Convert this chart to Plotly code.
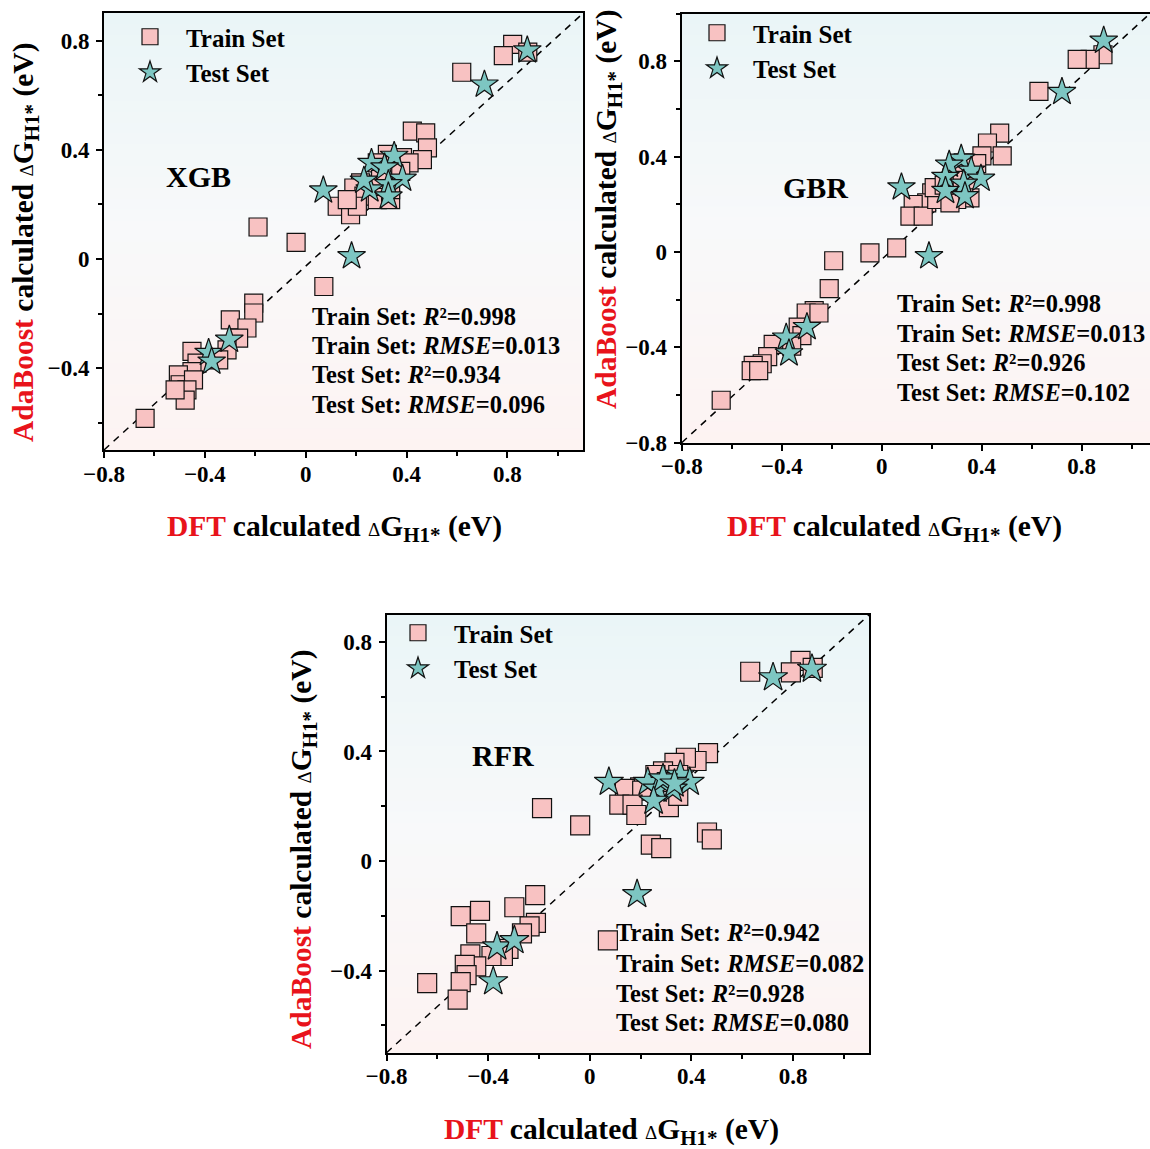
import plotly.graph_objects as go

# ---------------- data ----------------
xgb_train_x = [0.821, 0.784, 0.881, 0.619, 0.423, 0.476, 0.483, 0.463, 0.324, 0.384, 0.410, 0.284, 0.324,
               0.377, 0.218, 0.191, 0.231, 0.284, 0.337, 0.337, 0.125, 0.178, 0.205, 0.165, 0.271, 0.297,
               -0.189, -0.038, 0.072, -0.206, -0.206, -0.299, -0.233, -0.266, -0.312, -0.345, -0.451,
               -0.431, -0.451, -0.505, -0.498, -0.445, -0.471, -0.478, -0.518, -0.637]
xgb_train_y = [0.786, 0.745, 0.758, 0.684, 0.468, 0.462, 0.407, 0.364, 0.383, 0.371, 0.352, 0.352, 0.328,
               0.321, 0.279, 0.260, 0.230, 0.217, 0.217, 0.254, 0.193, 0.162, 0.193, 0.217, 0.266, 0.291,
               0.117, 0.061, -0.101, -0.162, -0.198, -0.223, -0.253, -0.290, -0.333, -0.370, -0.339,
               -0.382, -0.413, -0.425, -0.461, -0.443, -0.480, -0.517, -0.480, -0.584]
xgb_test_x = [0.879, 0.709, 0.070, 0.182, 0.261, 0.351, 0.313, 0.384, 0.328, 0.254, 0.328, 0.231,
              -0.385, -0.373, -0.303]
xgb_test_y = [0.764, 0.639, 0.251, 0.010, 0.352, 0.378, 0.335, 0.294, 0.274, 0.255, 0.229, 0.287,
              -0.344, -0.376, -0.296]

gbr_train_x = [0.885, 0.834, 0.782, 0.629, 0.472, 0.423, 0.482, 0.401, 0.380, 0.326, 0.286, 0.340,
               0.353, 0.300, 0.246, 0.200, 0.180, 0.126, 0.113, 0.166, 0.220, 0.273, 0.210, 0.310, 0.250,
               -0.047, 0.060, -0.192, -0.210, -0.270, -0.302, -0.251, -0.334, -0.319, -0.360, -0.434,
               -0.456, -0.478, -0.514, -0.522, -0.492, -0.642]
gbr_train_y = [0.827, 0.808, 0.808, 0.673, 0.498, 0.457, 0.403, 0.403, 0.370, 0.374, 0.332, 0.276,
               0.227, 0.220, 0.234, 0.248, 0.206, 0.199, 0.150, 0.150, 0.220, 0.206, 0.270, 0.300, 0.280,
               -0.004, 0.017, -0.037, -0.154, -0.246, -0.256, -0.256, -0.315, -0.351, -0.395, -0.388,
               -0.439, -0.469, -0.476, -0.498, -0.498, -0.622]
gbr_test_x = [0.888, 0.721, 0.079, 0.189, 0.318, 0.358, 0.270, 0.397, 0.255, 0.328, 0.255, 0.333,
              -0.299, -0.382, -0.371]
gbr_test_y = [0.886, 0.671, 0.271, -0.018, 0.391, 0.341, 0.366, 0.307, 0.315, 0.286, 0.256, 0.234,
              -0.315, -0.359, -0.425]

rfr_train_x = [0.829, 0.877, 0.791, 0.631, 0.465, 0.420, 0.378, 0.333, 0.288, 0.258, 0.348, 0.303,
               0.198, 0.138, 0.206, 0.116, 0.168, 0.183, 0.311, 0.348, -0.188, -0.038, 0.461, 0.480,
               0.240, 0.281, 0.071, -0.215, -0.508, -0.432, -0.297, -0.212, -0.237, -0.267, -0.447,
               -0.320, -0.342, -0.387, -0.470, -0.447, -0.492, -0.485, -0.508, -0.520, -0.640]
rfr_train_y = [0.731, 0.705, 0.689, 0.691, 0.394, 0.365, 0.377, 0.358, 0.327, 0.314, 0.314, 0.288,
               0.269, 0.263, 0.257, 0.206, 0.206, 0.168, 0.197, 0.238, 0.193, 0.130, 0.104, 0.079,
               0.060, 0.047, -0.290, -0.125, -0.201, -0.182, -0.169, -0.226, -0.239, -0.264, -0.264,
               -0.321, -0.347, -0.347, -0.341, -0.385, -0.379, -0.417, -0.442, -0.506, -0.446]
rfr_test_x = [0.874, 0.721, 0.075, 0.186, -0.380, -0.365, -0.297, 0.356, 0.393, 0.228, 0.266, 0.326,
              0.288, 0.251, 0.333]
rfr_test_y = [0.701, 0.670, 0.288, -0.122, -0.440, -0.313, -0.290, 0.314, 0.288, 0.288, 0.263, 0.263,
              0.301, 0.219, 0.282]

model_names = ["XGB", "GBR", "RFR"]
train_r2 = ["0.998", "0.998", "0.942"]
train_rmse = ["0.013", "0.013", "0.082"]
test_r2 = ["0.934", "0.926", "0.928"]
test_rmse = ["0.096", "0.102", "0.080"]
tick_vals = [-0.8, -0.4, 0, 0.4, 0.8]

# ---------------- layout helpers ----------------
W, H = 1150, 1149
FONT = "Liberation Serif"
PINK = "#F8C2C2"
TEAL = "#7DC6C2"


def px_x(p):
    return p / W


def px_y(p):
    return 1 - p / H


panels = [
    dict(ax="", xdom=[104, 583], ydom=[450, 13.3], xr=[-0.8, 1.1], yr=[-0.7, 0.9], mirror_y=True,
         tx=xgb_train_x, ty=xgb_train_y, sx=xgb_test_x, sy=xgb_test_y, sz=18,
         legend="legend", leg=(114, 14), label=(198, 176), stats=(310, [316, 345.5, 375, 404.5]),
         xtitle=(334, 528), ytitle=(25, 243)),
    dict(ax="2", xdom=[681.7, 1150], ydom=[442.7, 13.5], xr=[-0.8, -0.8 + (1150 - 681.7) / 250], yr=[-0.8, 1.0],
         mirror_y=False,
         tx=gbr_train_x, ty=gbr_train_y, sx=gbr_test_x, sy=gbr_test_y, sz=18,
         legend="legend2", leg=(681, 10), label=(815, 188), stats=(895, [303, 333, 362.5, 392]),
         xtitle=(895, 528), ytitle=(608, 210)),
    dict(ax="3", xdom=[386.5, 869.4], ydom=[1052.7, 614.5], xr=[-0.8, 1.1], yr=[-0.7, 0.9], mirror_y=True,
         tx=rfr_train_x, ty=rfr_train_y, sx=rfr_test_x, sy=rfr_test_y, sz=19,
         legend="legend3", leg=(382, 610), label=(503, 755), stats=(614, [933, 963, 993, 1022]),
         xtitle=(611, 1131), ytitle=(303, 850)),
]

fig = go.Figure()
shapes = []
annotations = []

delta = ("<span style='font-size:19px;font-weight:normal'>\u0394</span>G"
         "<sub><span style='font-size:21px'>H1*</span></sub>")
xtitle_txt = "<span style='color:#E8131B'>DFT</span> calculated " + delta + " (eV)"
ytitle_txt = "<span style='color:#E8131B'>AdaBoost</span> calculated " + delta + " (eV)"

top_c = (234, 245, 247)
mid_c = (248, 249, 250)
bot_c = (253, 243, 242)
NB = 40

for i, p in enumerate(panels):
    xa = "x" + p["ax"]
    ya = "y" + p["ax"]
    fig.add_trace(go.Scatter(
        x=p["tx"], y=p["ty"], mode="markers", name="Train Set", xaxis=xa, yaxis=ya,
        legend=p["legend"],
        marker=dict(symbol="square", size=p["sz"], color=PINK, line=dict(color="#111", width=1.2))))
    fig.add_trace(go.Scatter(
        x=p["sx"], y=p["sy"], mode="markers", name="Test Set", xaxis=xa, yaxis=ya,
        legend=p["legend"],
        marker=dict(symbol="star", size=p["sz"] + 3, color=TEAL, line=dict(color="#111", width=1.2))))

    axis_common = dict(showline=True, linecolor="black", linewidth=2, ticks="outside", ticklen=6,
                       tickwidth=2, tickcolor="black", showgrid=False, zeroline=False,
                       tickvals=tick_vals, automargin=False,
                       tickfont=dict(family=FONT, size=23, color="black", weight="bold"),
                       minor=dict(dtick=0.2, tick0=0, ticks="outside", ticklen=4, tickwidth=2, tickcolor="black"))
    fig.update_layout(**{
        "xaxis" + p["ax"]: dict(axis_common, domain=[px_x(p["xdom"][0]), px_x(p["xdom"][1])],
                                range=p["xr"], anchor=ya, mirror=True, ticklabelstandoff=-4),
        "yaxis" + p["ax"]: dict(axis_common, domain=[px_y(p["ydom"][0]), px_y(p["ydom"][1])],
                                range=p["yr"], anchor=xa, mirror=p["mirror_y"], ticklabelstandoff=2),
    })

    # gradient background bands
    for b in range(NB):
        t = (b + 0.5) / NB  # 0 bottom -> 1 top
        if t > 0.5:
            u = (t - 0.5) / 0.5
            c = tuple(round(mid_c[k] + (top_c[k] - mid_c[k]) * u) for k in range(3))
        else:
            u = (0.5 - t) / 0.5
            c = tuple(round(mid_c[k] + (bot_c[k] - mid_c[k]) * u) for k in range(3))
        shapes.append(dict(type="rect", xref=xa + " domain", yref=ya + " domain",
                           x0=0, x1=1, y0=b / NB, y1=(b + 1) / NB + 0.002,
                           fillcolor="rgb(%d,%d,%d)" % c, line=dict(width=0), layer="below"))
    # diagonal reference line
    shapes.append(dict(type="line", xref=xa + " domain", yref=ya + " domain", x0=0, y0=0, x1=1, y1=1,
                       line=dict(color="black", width=1.5, dash="7px,6px"), layer="below"))

    # legend
    fig.update_layout(**{p["legend"]: dict(
        x=px_x(p["leg"][0]), y=px_y(p["leg"][1]), xanchor="left", yanchor="top",
        bgcolor="rgba(0,0,0,0)", borderwidth=0, itemwidth=62,
        font=dict(family=FONT, size=25, color="black", weight="bold"),
        itemsizing="trace", tracegroupgap=0)})

    # model label
    annotations.append(dict(text="<b>%s</b>" % model_names[i], xref="paper", yref="paper",
                            x=px_x(p["label"][0]), y=px_y(p["label"][1]), showarrow=False,
                            xanchor="center", yanchor="middle",
                            font=dict(family=FONT, size=30, color="black")))
    # stats, one line each
    lines = ["<b>Train Set: <i>R</i>\u00b2=%s</b>" % train_r2[i],
             "<b>Train Set: <i>RMSE</i>=%s</b>" % train_rmse[i],
             "<b>Test Set: <i>R</i>\u00b2=%s</b>" % test_r2[i],
             "<b>Test Set: <i>RMSE</i>=%s</b>" % test_rmse[i]]
    for line, yy in zip(lines, p["stats"][1]):
        annotations.append(dict(text=line, xref="paper", yref="paper", x=px_x(p["stats"][0]),
                                y=px_y(yy), showarrow=False, xanchor="left", yanchor="middle",
                                align="left", font=dict(family=FONT, size=24.5, color="black")))
    # axis titles
    annotations.append(dict(text="<b>" + xtitle_txt + "</b>", xref="paper", yref="paper",
                            x=px_x(p["xtitle"][0]), y=px_y(p["xtitle"][1]), showarrow=False,
                            xanchor="center", yanchor="middle",
                            font=dict(family=FONT, size=29.5, color="black")))
    annotations.append(dict(text="<b>" + ytitle_txt + "</b>", xref="paper", yref="paper",
                            x=px_x(p["ytitle"][0]), y=px_y(p["ytitle"][1]), showarrow=False,
                            xanchor="center", yanchor="middle", textangle=-90,
                            font=dict(family=FONT, size=29.5, color="black")))

fig.update_layout(width=W, height=H, autosize=False, margin=dict(l=0, r=0, t=0, b=0, autoexpand=False),
                  paper_bgcolor="white", plot_bgcolor="white", shapes=shapes, annotations=annotations,
                  showlegend=True)
fig.write_html("out.html")
